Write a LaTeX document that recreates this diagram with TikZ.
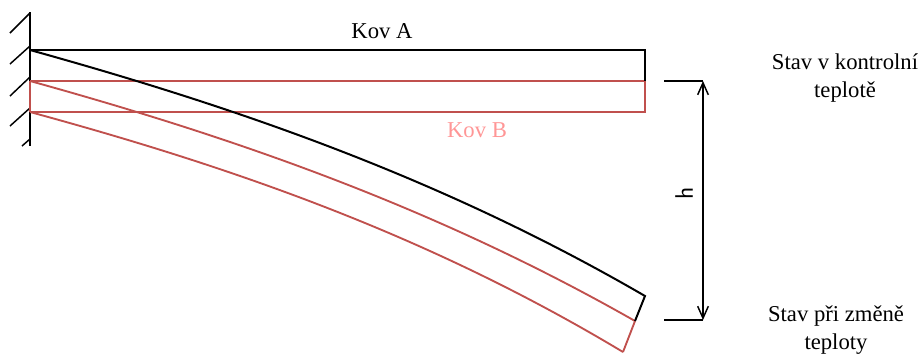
\documentclass[tikz,border=0pt]{standalone}
\usepackage{fontspec}
\setmainfont{Liberation Serif}
\usetikzlibrary{arrows.meta}
\definecolor{redm}{RGB}{192,80,77}
\definecolor{pinkm}{RGB}{255,150,150}
\tikzset{
  px/.style={x=0.75pt,y=-0.75pt},
  metalA/.style={draw=black,line width=1.5pt},
  metalB/.style={draw=redm,line width=1.4pt},
  hatch/.style={draw=black,line width=1.1pt},
  dim/.style={draw=black,line width=1.1pt},
  lab/.style={font=\fontsize{17}{20.5}\selectfont,align=center,inner sep=0pt},
}
\begin{document}
\begin{tikzpicture}[px]
\useasboundingbox (0,0) rectangle (920,354);
% wall
\draw[hatch,line width=1.3pt] (30,12) -- (30,146);
\draw[hatch] (30,13) -- (10,33);
\draw[hatch] (30,46) -- (10,64);
\draw[hatch] (30,77) -- (10,96);
\draw[hatch] (30,108) -- (10,126);
\draw[hatch] (30,139) -- (22,146);
% named points
\coordinate (a1) at (30,50); \coordinate (a2) at (645,50);
\coordinate (b1) at (30,81); \coordinate (b2) at (645,81);
\coordinate (c1) at (30,112); \coordinate (c2) at (645,112);
\coordinate (d1) at (645,296); \coordinate (d2) at (635,321); \coordinate (d3) at (623,352);
% straight state
\draw[metalB,line width=0.9pt] (b1) -- (c1);
\draw[metalB] (b1) -- (b2);
\draw[metalB] (c1) -- (c2) -- (b2);
\draw[metalA] (a1) -- (a2) -- (b2);
% bent state
\draw[metalB] (b1) .. controls (232,137) and (433,206) .. (d2);
\draw[metalB] (c1) .. controls (228,166) and (425,233) .. (d3);
\draw[metalB] (d2) -- (d3);
\draw[metalA] (a1) .. controls (235,107) and (440,177) .. (d1) -- (d2);
% dimension
\coordinate (h1) at (703,81); \coordinate (h2) at (703,320);
\draw[dim] (664,81) -- (h1);
\draw[dim] (664,320) -- (h2);
\draw[dim,{Straight Barb[length=9pt,width=8pt]}-{Straight Barb[length=9pt,width=8pt]}] (h1) -- (h2);
% labels
\node[lab] (ka) at (382,31) {Kov A};
\node[lab,text=pinkm] (kb) at (477,130) {Kov B};
\node[lab,rotate=90,font=\fontsize{19}{20}\selectfont\sffamily] (hl) at (684,193) {h};
\node[lab] (s1) at (845,78) {Stav v kontrolní\\teplotě};
\node[lab] (s2) at (836,330) {Stav při změně\\teploty};
\end{tikzpicture}
\end{document}
